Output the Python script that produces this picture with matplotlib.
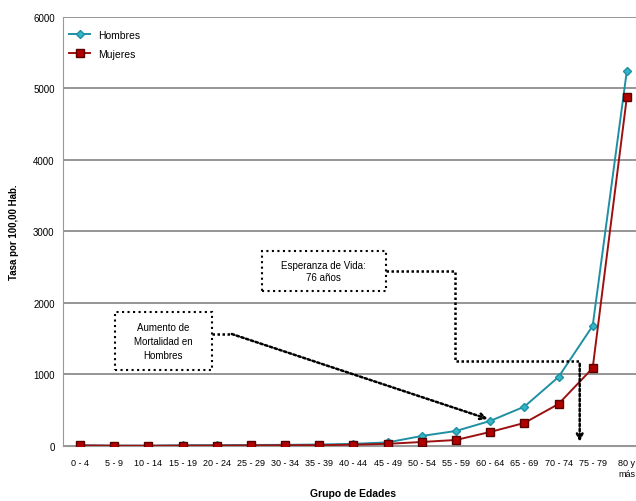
import matplotlib
matplotlib.use("Agg")
import matplotlib.pyplot as plt
from matplotlib.patches import Rectangle

# Tasa de mortalidad por grupo de edades
grupos = ["0 - 4", "5 - 9", "10 - 14", "15 - 19", "20 - 24", "25 - 29", "30 - 34",
          "35 - 39", "40 - 44", "45 - 49", "50 - 54", "55 - 59", "60 - 64",
          "65 - 69", "70 - 74", "75 - 79", "80 y\nmás"]
hombres = [10, 5, 5, 10, 12, 14, 16, 20, 30, 50, 140, 210, 350, 550, 965, 1680, 5250]
mujeres = [8, 4, 3, 5, 6, 8, 10, 12, 18, 30, 56, 84, 196, 322, 587, 1090, 4880]

plt.rcParams['font.family'] = ['Liberation Sans Narrow', 'Liberation Sans', 'DejaVu Sans']

fig = plt.figure(figsize=(6.36, 5.02), dpi=100)
ax = fig.add_axes([0.099, 0.1096, 0.9135, 0.8546])

x = list(range(len(grupos)))
ax.plot(x, hombres, color='#1f8fa3', lw=1.4, marker='D', ms=4,
        mfc='#33b5c8', mec='#1f8fa3', label='Hombres', zorder=3)
ax.plot(x, mujeres, color='#9c1010', lw=1.4, marker='s', ms=6,
        mfc='#b00000', mec='#5a0000', label='Mujeres', zorder=3)

ax.set_xlim(-0.5, len(grupos) - 0.5)
ax.set_ylim(0, 6000)
ax.set_yticks(range(0, 6001, 1000))
ax.set_xticks(x)
ax.set_xticklabels(grupos, fontsize=6.5)
ax.tick_params(axis='y', labelsize=7, length=0, pad=6)
ax.tick_params(axis='x', length=0, pad=9)
ax.grid(axis='y', color='#8c8c8c', lw=1.3)
ax.set_axisbelow(True)
for s in ['top', 'right']:
    ax.spines[s].set_visible(False)
ax.spines['left'].set_color('#999999')
ax.spines['bottom'].set_color('#999999')

ax.set_ylabel('Tasa por 100,00 Hab.', fontsize=7, fontweight='bold', labelpad=10)
ax.set_xlabel('Grupo de Edades', fontsize=7.5, fontweight='bold', labelpad=7)

ax.legend(loc='upper left', frameon=False, fontsize=7.5, handlelength=2.0,
          borderaxespad=0.2, labelspacing=0.9, bbox_to_anchor=(0.0, 0.985))

dots = (0, (1, 1))

# Esperanza de vida
ax.add_patch(Rectangle((5.32, 2168), 3.63, 559, fc='white', ec='black',
                       lw=1.5, ls=':', zorder=4))
ax.text(7.13, 2448, 'Esperanza de Vida:\n76 años', fontsize=7, ha='center',
        va='center', zorder=5)
ax.plot([8.95, 10.96, 10.96, 14.62], [2448, 2448, 1189, 1189],
        color='black', lw=1.8, ls=dots, zorder=4)
ax.annotate('', xy=(14.62, 20), xytext=(14.62, 1189),
            arrowprops=dict(arrowstyle='->', lw=1.8, ls=dots, color='black'),
            zorder=4)

# Aumento de mortalidad en hombres
ax.add_patch(Rectangle((1.02, 1063), 2.84, 811, fc='white', ec='black',
                       lw=1.5, ls=':', zorder=4))
ax.text(2.44, 1469, 'Aumento de\nMortalidad en\nHombres', fontsize=7,
        ha='center', va='center', linespacing=1.5, zorder=5)
ax.plot([3.86, 4.44], [1566, 1566], color='black', lw=1.8, ls=dots, zorder=4)
ax.annotate('', xy=(11.93, 378), xytext=(4.44, 1566),
            arrowprops=dict(arrowstyle='->', lw=1.8, ls=dots, color='black',
                            shrinkA=0, shrinkB=0),
            zorder=4)

fig.savefig('out.png', dpi=100)
